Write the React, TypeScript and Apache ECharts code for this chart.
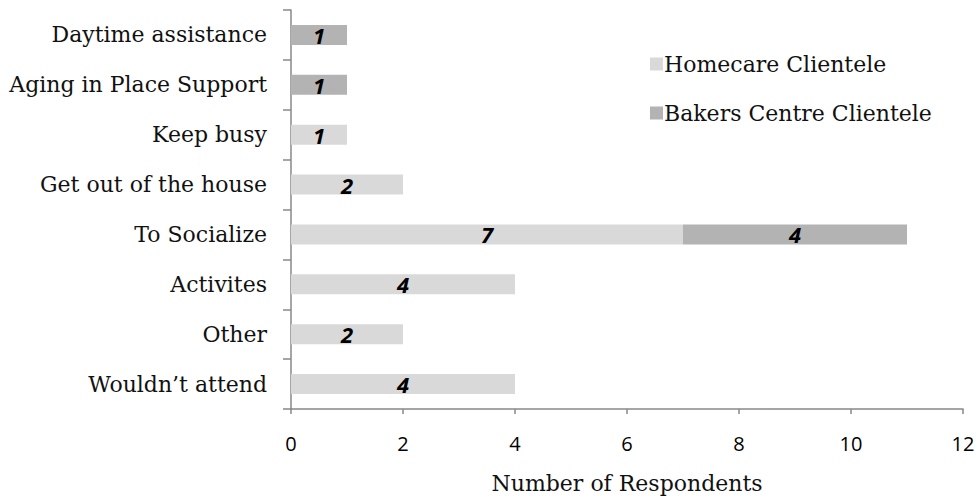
import React, { useEffect, useRef } from "react";
import * as echarts from "echarts";

const categories = [
  "Wouldn’t attend",
  "Other",
  "Activites",
  "To Socialize",
  "Get out of the house",
  "Keep busy",
  "Aging in Place Support",
  "Daytime assistance",
];
const homecare = [4, 2, 4, 7, 2, 1, 0, 0];
const bakers = [0, 0, 0, 4, 0, 0, 1, 1];
const xTicks = [0, 2, 4, 6, 8, 10, 12];
const seriesNames = ["Homecare Clientele", "Bakers Centre Clientele"];

const SERIF = "'DejaVu Serif', serif";
const SANS = "'Open Sans', sans-serif";

export default function App() {
  const ref = useRef<HTMLDivElement>(null);
  useEffect(() => {
    if (!ref.current) return;
    const chart = echarts.init(ref.current, undefined, { renderer: "svg" });
    const nz = (arr: number[]) => arr.map((v) => (v === 0 ? null : v));
    const label = {
      show: true,
      position: "inside",
      color: "#000",
      fontFamily: SANS,
      fontSize: 22,
      fontStyle: "italic",
      fontWeight: "bold",
    };
    chart.setOption({
      animation: false,
      grid: { left: 291, right: 16, top: 10, bottom: 90, containLabel: false },
      legend: {
        orient: "vertical",
        left: 650,
        top: 53,
        padding: 0,
        itemWidth: 13,
        itemHeight: 13,
        itemGap: 27,
        icon: "rect",
        data: seriesNames,
        textStyle: { fontFamily: SERIF, fontSize: 22, color: "#111", padding: [0, 0, 0, -4] },
      },
      xAxis: {
        type: "value",
        min: xTicks[0],
        max: xTicks[xTicks.length - 1],
        interval: 2,
        name: "Number of Respondents",
        nameLocation: "middle",
        nameGap: 63,
        nameTextStyle: { fontFamily: SERIF, fontSize: 22, color: "#111" },
        axisLine: { show: true, lineStyle: { color: "#888", width: 1.5 } },
        axisTick: { show: true, length: 5, lineStyle: { color: "#888", width: 1.5 } },
        splitLine: { show: false },
        axisLabel: { fontFamily: SANS, fontSize: 20, color: "#000", margin: 24 },
      },
      yAxis: {
        type: "category",
        data: categories,
        axisLine: { show: true, lineStyle: { color: "#888", width: 1.5 } },
        axisTick: { show: true, length: 8, lineStyle: { color: "#888", width: 1.5 } },
        axisLabel: { fontFamily: SERIF, fontSize: 22, color: "#111", margin: 24 },
      },
      series: [
        {
          name: seriesNames[0],
          type: "bar",
          stack: "total",
          barWidth: 20,
          data: nz(homecare),
          itemStyle: { color: "#d9d9d9" },
          label,
        },
        {
          name: seriesNames[1],
          type: "bar",
          stack: "total",
          barWidth: 20,
          data: nz(bakers),
          itemStyle: { color: "#b3b3b3" },
          label,
        },
      ],
    });
    return () => chart.dispose();
  }, []);
  return <div ref={ref} style={{ width: 979, height: 499, position: "absolute", left: 0, top: 0 }} />;
}
